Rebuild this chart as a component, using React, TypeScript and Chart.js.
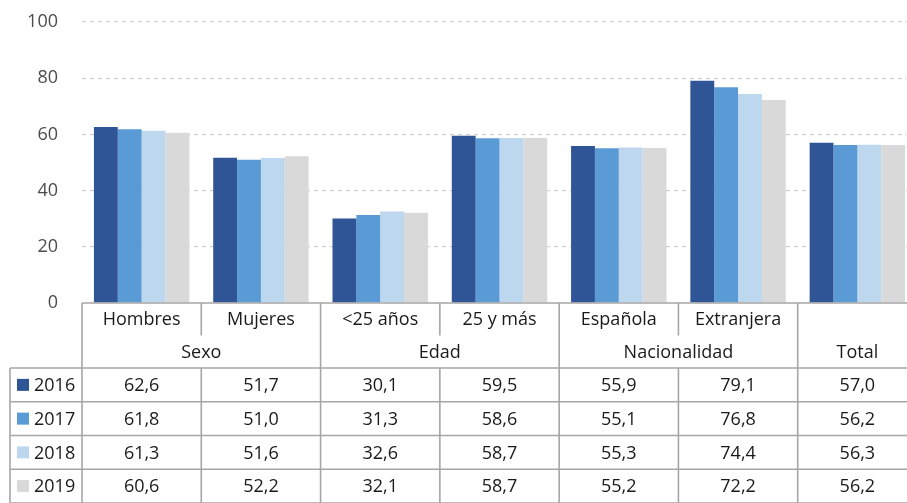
import React, { useEffect, useRef } from "react";
import { Chart, registerables } from "chart.js";

Chart.register(...registerables);

const categories = ["Hombres", "Mujeres", "<25 años", "25 y más", "Española", "Extranjera", "Total"];
const groups = ["Sexo", "Edad", "Nacionalidad", "Total"];
const groupSpans = [2, 2, 2, 1];
const years = ["2016", "2017", "2018", "2019"];
const values2016 = [62.6, 51.7, 30.1, 59.5, 55.9, 79.1, 57.0];
const values2017 = [61.8, 51.0, 31.3, 58.6, 55.1, 76.8, 56.2];
const values2018 = [61.3, 51.6, 32.6, 58.7, 55.3, 74.4, 56.3];
const values2019 = [60.6, 52.2, 32.1, 58.7, 55.2, 72.2, 56.2];
const colors = ["#2F5597", "#5B9BD5", "#BDD7EE", "#D9D9D9"];
const yTicks = [0, 20, 40, 60, 80, 100];

const FONT = "'Open Sans', sans-serif";
const LINE = "#a6a6a6";

const fmt = (v: number) => v.toFixed(1).replace(".", ",");

const tablePlugin = {
  id: "dataTable",
  afterDraw(chart: any) {
    const ctx = chart.ctx as CanvasRenderingContext2D;
    const x = chart.scales.x;
    const area = chart.chartArea;
    const series = [values2016, values2017, values2018, values2019];
    const n = categories.length;
    const colW = x.getPixelForValue(1) - x.getPixelForValue(0);
    const left = (i: number) => x.getPixelForValue(i) - colW / 2;
    const top = area.bottom;
    const bottom = chart.height;
    const headH = 32.5;
    const rowTop0 = top + headH * 2;
    const rowH = (bottom - rowTop0) / 4;
    const legendLeft = 10;
    const rightEdge = left(n);

    ctx.save();
    ctx.strokeStyle = LINE;
    ctx.lineWidth = 1.6;
    const hline = (y: number, x0: number, x1: number) => {
      ctx.beginPath();
      ctx.moveTo(x0, y);
      ctx.lineTo(x1, y);
      ctx.stroke();
    };
    const vline = (xx: number, y0: number, y1: number) => {
      ctx.beginPath();
      ctx.moveTo(xx, y0);
      ctx.lineTo(xx, y1);
      ctx.stroke();
    };
    hline(top, left(0), rightEdge);
    for (let r = 0; r <= 4; r++) hline(rowTop0 + r * rowH, legendLeft, rightEdge);
    vline(legendLeft, rowTop0, bottom);
    let idx = 0;
    const groupStarts: number[] = [];
    groupSpans.forEach((s) => {
      groupStarts.push(idx);
      idx += s;
    });
    for (let i = 0; i <= n; i++) {
      const isGroupEdge = i === n || groupStarts.includes(i);
      if (isGroupEdge) vline(left(i), top, bottom);
      else {
        vline(left(i), top, top + headH);
        vline(left(i), rowTop0, bottom);
      }
    }

    ctx.fillStyle = "#1a1a1a";
    ctx.font = `18px ${FONT}`;
    ctx.textAlign = "center";
    ctx.textBaseline = "middle";
    groups.forEach((g, gi) => {
      const s = groupStarts[gi];
      const span = groupSpans[gi];
      if (span > 1) {
        for (let k = s; k < s + span; k++) {
          ctx.fillText(categories[k], x.getPixelForValue(k), top + headH / 2 + 1);
        }
      }
      const cx = (left(s) + left(s + span)) / 2;
      ctx.fillText(g, cx, top + headH * 1.5 + 1);
    });
    series.forEach((vals, r) => {
      const cy = rowTop0 + rowH * r + rowH / 2 + 1;
      vals.forEach((v, i) => {
        ctx.fillText(fmt(v), x.getPixelForValue(i), cy);
      });
      ctx.fillStyle = colors[r];
      ctx.fillRect(17, cy - 7, 12, 12);
      ctx.fillStyle = "#1a1a1a";
      ctx.textAlign = "left";
      ctx.fillText(years[r], 34, cy);
      ctx.textAlign = "center";
    });
    ctx.restore();
  },
};

export default function App() {
  const ref = useRef<HTMLCanvasElement>(null);
  useEffect(() => {
    const canvas = ref.current!;
    const chart = new Chart(canvas, {
      type: "bar",
      data: {
        labels: categories,
        datasets: [values2016, values2017, values2018, values2019].map((d, i) => ({
          label: years[i],
          data: d,
          backgroundColor: colors[i],
          barPercentage: 1,
          categoryPercentage: 0.8,
        })),
      },
      options: {
        animation: false,
        responsive: false,
        maintainAspectRatio: false,
        layout: { padding: { top: 22, left: 0, right: 8, bottom: 0 } },
        plugins: { legend: { display: false }, tooltip: { enabled: false } },
        scales: {
          x: {
            ticks: { display: false },
            grid: { display: false },
            border: { display: false },
            afterFit: (s: any) => {
              s.height = 200;
              s.paddingLeft = 0;
              s.paddingRight = 0;
            },
          },
          y: {
            min: 0,
            max: 100,
            afterBuildTicks: (s: any) => {
              s.ticks = yTicks.map((v) => ({ value: v }));
            },
            ticks: {
              padding: 24,
              color: "#4d4d4d",
              font: { family: FONT, size: 18 },
            },
            grid: {
              drawTicks: false,
              color: (c: any) => (c.tick && c.tick.value === 0 ? "rgba(0,0,0,0)" : "#d0d0d0"),
              lineWidth: 1.2,
            },
            border: { display: false, dash: [4, 4] },
            afterFit: (s: any) => {
              s.width = 82;
              s.paddingTop = 0;
              s.paddingBottom = 0;
            },
          },
        },
      },
      plugins: [tablePlugin],
    });
    return () => chart.destroy();
  }, []);
  return (
    <div style={{ position: "fixed", left: 0, top: 0, width: 925, height: 503, background: "#fff" }}>
      <canvas ref={ref} width={925} height={503} style={{ display: "block" }} />
    </div>
  );
}
